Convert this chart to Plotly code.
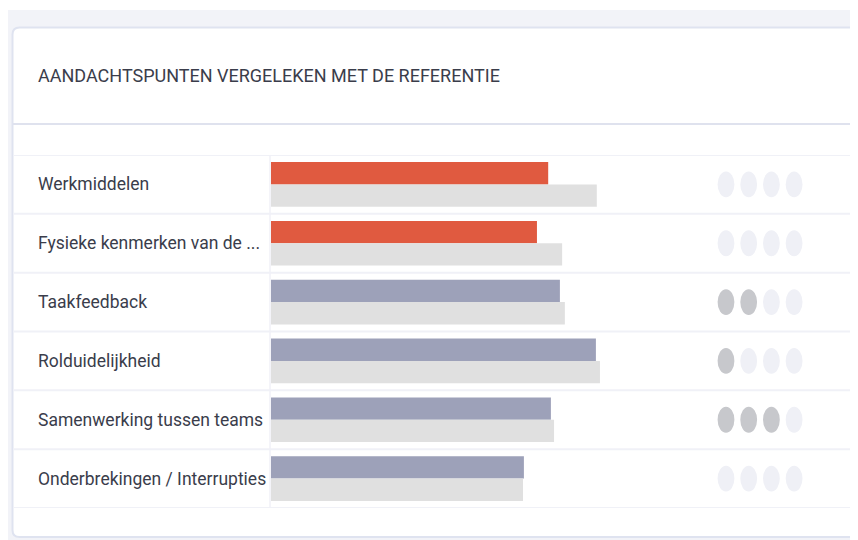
import plotly.graph_objects as go

categories = ["Werkmiddelen", "Fysieke kenmerken van de ...", "Taakfeedback",
              "Rolduidelijkheid", "Samenwerking tussen teams", "Onderbrekingen / Interrupties"]
scores = [61.6, 59.1, 64.2, 72.2, 62.2, 56.2]
reference = [72.4, 64.7, 65.3, 73.1, 62.9, 56.0]
score_colors = ["#e05a40", "#e05a40", "#9da1b9", "#9da1b9", "#9da1b9", "#9da1b9"]
dot_levels = [0, 0, 2, 1, 3, 0]
dot_total = 4
title_text = "AANDACHTSPUNTEN VERGELEKEN MET DE REFERENTIE"

W, H = 858, 540
OFF = 8  # page body margin
def px(v): return (v - OFF) / W
def py(v): return 1 - (v - OFF) / H

row_top, row_bot = 155, 508

fig = go.Figure()
fig.add_trace(go.Bar(y=categories, x=scores, orientation="h", marker=dict(color=score_colors, line=dict(width=0)),
                     hoverinfo="skip", showlegend=False))
fig.add_trace(go.Bar(y=categories, x=reference, orientation="h", marker=dict(color="#e0e0e0", line=dict(width=0)),
                     hoverinfo="skip", showlegend=False))

shapes = []
# page background
shapes.append(dict(type="rect", xref="paper", yref="paper", x0=px(8), x1=px(W + 20), y0=py(H + 20), y1=py(10),
                   fillcolor="#f2f3f8", line=dict(width=0), layer="below"))
# card with rounded corners
x0, x1, y0, y1 = px(12.5), px(W + 30), py(537), py(27.5)
rx, ry = 7 / W, 7 / H
path = (f"M {x0},{y1-ry} Q {x0},{y1} {x0+rx},{y1} L {x1},{y1} L {x1},{y0} L {x0+rx},{y0} "
        f"Q {x0},{y0} {x0},{y0+ry} Z")
shapes.append(dict(type="path", xref="paper", yref="paper", path=path, fillcolor="white",
                   line=dict(color="#dfe3f0", width=2), layer="below"))
# header separator
shapes.append(dict(type="line", xref="paper", yref="paper", x0=px(13), x1=px(W + 20), y0=py(124), y1=py(124),
                   line=dict(color="#dfe2ee", width=2), layer="below"))
# row separators
for i in range(len(categories) + 1):
    shapes.append(dict(type="line", xref="paper", yref="y", x0=px(13), x1=px(W + 20), y0=i - 0.5, y1=i - 0.5,
                       line=dict(color="#f0f1f7", width=2), layer="below"))
# vertical divider
shapes.append(dict(type="line", xref="paper", yref="y", x0=px(270), x1=px(270), y0=-0.5, y1=len(categories) - 0.5,
                   line=dict(color="#f0f1f7", width=1.5), layer="below"))
# dots
for r, lvl in enumerate(dot_levels):
    for k in range(1, dot_total + 1):
        col = "#c7c8cc" if k <= lvl else "#eff0f6"
        shapes.append(dict(type="circle", xref="x2", yref="y", x0=k - 0.37, x1=k + 0.37, y0=r - 0.22, y1=r + 0.22,
                           fillcolor=col, line=dict(width=0)))

annotations = [dict(text=title_text, xref="paper", yref="paper", x=px(36), y=py(75), xanchor="left", yanchor="middle",
                    showarrow=False, font=dict(family="Roboto", size=18, color="#3a3d4b"))]
for i, c in enumerate(categories):
    annotations.append(dict(text=c, xref="paper", yref="y", x=px(36), y=i, xanchor="left", yanchor="middle",
                            showarrow=False, font=dict(family="Roboto", size=17.5, color="#3a3d4b")))

fig.update_layout(
    width=W, height=H, margin=dict(l=0, r=0, t=0, b=0),
    paper_bgcolor="white", plot_bgcolor="rgba(0,0,0,0)",
    barmode="group", bargap=0.24, bargroupgap=0,
    xaxis=dict(domain=[px(271), px(721)], range=[0, 100], visible=False, fixedrange=True),
    xaxis2=dict(domain=[px(703.3), px(816.8)], range=[0, 5], visible=False, anchor="y"),
    yaxis=dict(domain=[py(row_bot), py(row_top)], range=[len(categories) - 0.5, -0.5], visible=False),
    shapes=shapes, annotations=annotations,
)
fig.write_html("out.html")
